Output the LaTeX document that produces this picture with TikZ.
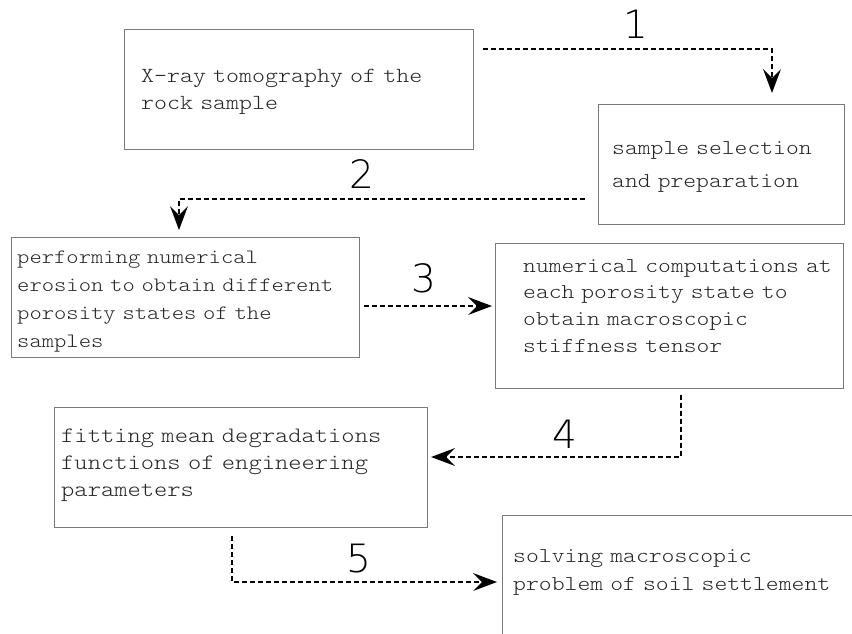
\documentclass[tikz,border=0pt]{standalone}
\usepackage{fontspec}
\setmonofont{lmmonolt10-regular.otf}[FakeStretch=1.15]
\newfontfamily\numfont{DejaVu Sans ExtraLight}
\usetikzlibrary{arrows.meta}
\definecolor{boxgray}{HTML}{7A7A7A}
\definecolor{txtgray}{HTML}{262626}
\tikzset{
  stepbox/.style={draw=boxgray, line width=1.1pt, anchor=north west, inner sep=0pt},
  steptext/.style={anchor=base west, inner sep=0pt, align=left, text=txtgray, text width=#1},
  flowtip/.tip={Stealth[length=24pt,width=18pt,inset=9pt,line width=0pt]},
  flow/.style={line width=1.3pt, dash pattern=on 5pt off 3pt, -flowtip},
  numlbl/.style={anchor=base, inner sep=0pt, font=\numfont\fontsize{39}{39}\selectfont}
}
\begin{document}
\begin{tikzpicture}[x=1pt,y=-1pt]
\useasboundingbox (0,0) rectangle (852,633);
% boxes
\node[stepbox, minimum width=349pt, minimum height=120pt] (b1) at (124,29) {};
\node[stepbox, minimum width=246pt, minimum height=120pt] (b2) at (598,104) {};
\node[stepbox, minimum width=348pt, minimum height=120pt] (b3) at (11,237) {};
\node[stepbox, minimum width=348pt, minimum height=145pt] (b4) at (495,243) {};
\node[stepbox, minimum width=373pt, minimum height=120pt] (b5) at (54,407) {};
\node[stepbox, minimum width=380pt, minimum height=160pt] (b6) at (502,515) {};
% texts
\node[steptext=330pt, font=\ttfamily\fontsize{21.5}{27}\selectfont] (t1) at (141,82) {X-ray tomography of the\\rock sample};
\node[steptext=228pt, font=\ttfamily\fontsize{21.25}{33}\selectfont] (t2) at (612,154) {sample selection\\and preparation};
\node[steptext=345pt, font=\ttfamily\fontsize{20.4}{28}\selectfont] (t3) at (17,263) {performing numerical\\erosion to obtain different\\porosity states of the\\samples};
\node[steptext=335pt, font=\ttfamily\fontsize{21.2}{26.7}\selectfont] (t4) at (523,272) {numerical computations at\\each porosity state to\\obtain macroscopic\\stiffness tensor};
\node[steptext=362pt, font=\ttfamily\fontsize{22}{27}\selectfont] (t5) at (61,442) {fitting mean degradations\\functions of engineering\\parameters};
\node[steptext=345pt, font=\ttfamily\fontsize{21.3}{28}\selectfont] (t6) at (513,562) {solving macroscopic\\problem of soil settlement};
% connectors
\draw[flow] ([shift={(9,20)}]b1.north east) -| ([shift={(174,-11)}]b2.north west);
\draw[flow] ([shift={(-13,95)}]b2.north west) -| ([shift={(168,-7)}]b3.north west);
\draw[flow] ([shift={(4,69)}]b3.north east) -- ([shift={(-3,63)}]b4.north west);
\draw[flow] ([shift={(186,6)}]b4.south west) |- ([shift={(3,50)}]b5.north east);
\draw[flow] ([shift={(178,8)}]b5.south west) |- ([shift={(-5,67)}]b6.north west);
% labels
\node[numlbl] (l1) at (636,38) {1};
\node[numlbl] (l2) at (362,188) {2};
\node[numlbl] (l3) at (424,292) {3};
\node[numlbl] (l4) at (565,448) {4};
\node[numlbl] (l5) at (359,572) {5};
\end{tikzpicture}
\end{document}
